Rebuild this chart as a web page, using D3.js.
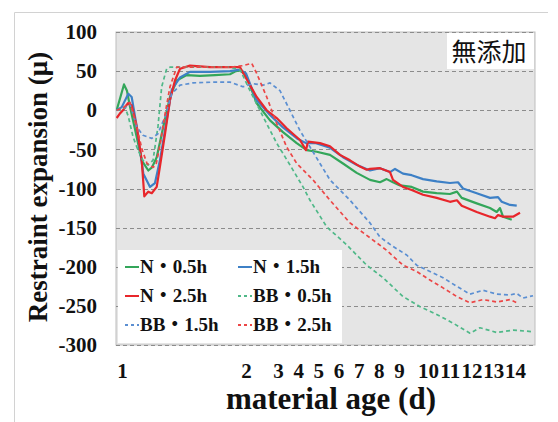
<!DOCTYPE html>
<html>
<head>
<meta charset="utf-8">
<script src="https://cdn.jsdelivr.net/npm/d3@7"></script>
<style>
  body { margin: 0; background: #fff; }
  svg { display: block; }
  text { font-family: "Liberation Serif", "Times New Roman", "Noto Sans CJK JP", serif; font-weight: bold; fill: #111; }
</style>
</head>
<body>
<svg id="chart" width="558" height="422"></svg>
<script>
// material age (d) vs restraint expansion (μ)
const dayTicks = [1, 2, 3, 4, 5, 6, 7, 8, 9, 10, 11, 12, 13, 14];
const yTicks = [100, 50, 0, -50, -100, -150, -200, -250, -300];

const n05 = [[0.957,0],[0.984,15],[1.016,33],[1.04,25],[1.065,4],[1.113,-30],[1.159,-64],[1.212,-77],[1.242,-73],
  [1.28,-60],[1.333,-21],[1.387,17],[1.441,38],[1.522,45],[1.629,44],[1.75,45],[1.871,46],[1.919,50],[1.952,51],
  [2.0,45],[2.334,9],[2.75,-13],[3.248,-28],[3.927,-42],[4.423,-51],[4.919,-53],[5.578,-57],[6.223,-68],[6.902,-80],
  [7.561,-89],[8.057,-92],[8.39,-88],[8.7,-92],[9.034,-96],[9.438,-98],[9.828,-104],[10.4,-106],[11.01,-107],
  [11.33,-104],[11.55,-112],[12.24,-119],[12.85,-125],[13.16,-130],[13.31,-125],[13.45,-136],[13.85,-140]];

const n15 = [[0.957,0],[0.998,4],[1.051,21],[1.078,17],[1.119,-21],[1.172,-81],[1.226,-98],[1.266,-93],[1.306,-64],
  [1.36,-13],[1.401,26],[1.468,42],[1.548,49],[1.71,49],[1.871,50],[1.952,52],[2.0,47],[2.313,14],[2.75,-6],
  [3.248,-22],[3.942,-36],[4.388,-42],[4.884,-42],[5.578,-48],[6.223,-60],[6.917,-70],[7.561,-77],[8.057,-74],
  [8.554,-79],[8.802,-75],[9.138,-81],[9.438,-83],[9.828,-88],[10.4,-91],[11.01,-93],[11.38,-92],[11.61,-100],
  [12.24,-106],[12.85,-112],[13.22,-111],[13.39,-117],[13.77,-121],[14.08,-122]];

const n25 = [[0.957,-10],[0.984,-4],[1.008,0],[1.048,9],[1.078,6],[1.119,-21],[1.159,-64],[1.18,-110],[1.212,-104],
  [1.24,-106],[1.28,-98],[1.306,-72],[1.347,-30],[1.387,13],[1.427,38],[1.468,53],[1.548,57],[1.71,55],[1.871,55],
  [1.952,55],[1.976,48],[2.334,17],[2.647,0],[2.959,-10],[3.431,-23],[4.091,-38],[4.388,-51],[4.487,-40],[5.082,-42],
  [5.578,-46],[6.074,-57],[6.57,-64],[7.066,-72],[7.398,-76],[7.561,-75],[8.057,-74],[8.554,-79],[8.702,-89],
  [9.138,-98],[9.438,-102],[9.828,-108],[10.4,-112],[11.01,-117],[11.33,-115],[11.55,-122],[12.24,-130],
  [12.85,-136],[13.08,-138],[13.22,-134],[13.45,-136],[13.91,-136],[14.23,-131]];

const bb05 = [[0.957,0],[0.984,0],[1.024,4],[1.051,-8],[1.089,-34],[1.129,-51],[1.169,-64],[1.21,-70],[1.25,-64],
  [1.29,-21],[1.32,30],[1.36,53],[1.387,55],[1.629,55],[1.871,55],[1.952,52],[2.125,25],[2.531,-8],[2.959,-42],
  [3.595,-70],[4.24,-98],[4.587,-115],[5.415,-149],[6.406,-172],[7.398,-198],[8.206,-214],[9.138,-238],
  [9.724,-251],[10.4,-261],[11.15,-272],[11.93,-285],[12.39,-278],[13.16,-284],[13.91,-281],[14.83,-283]];

const bb15 = [[0.957,0],[1.008,2],[1.065,8],[1.119,-21],[1.169,-32],[1.24,-36],[1.29,-30],[1.347,-8],[1.401,21],
  [1.468,32],[1.573,35],[1.75,36],[1.871,36],[1.976,30],[2.219,34],[2.531,32],[2.75,35],[3.099,25],[3.59,0],
  [4.091,-26],[4.587,-47],[5.082,-68],[5.578,-89],[6.57,-115],[7.561,-144],[8.057,-162],[8.7,-174],[9.266,-185],
  [9.61,-198],[10.09,-206],[10.69,-214],[11.32,-225],[11.93,-235],[12.53,-230],[13.16,-235],[13.77,-236],
  [14.08,-234],[14.37,-240],[14.83,-237]];

const bb25 = [[0.957,0],[1.008,3],[1.065,10],[1.119,-21],[1.161,-50],[1.202,-68],[1.25,-73],[1.274,-70],[1.306,-45],
  [1.347,-5],[1.387,30],[1.441,55],[1.629,55],[1.871,55],[1.976,57],[2.178,60],[2.334,47],[2.647,17],[2.959,-17],
  [3.431,-47],[3.927,-68],[4.735,-89],[5.578,-115],[6.57,-144],[7.561,-163],[8.39,-179],[9.138,-198],[9.61,-206],
  [10.09,-217],[10.69,-227],[11.32,-238],[11.93,-246],[12.53,-242],[13.16,-245],[13.77,-242],[14.08,-246]];

const seriesNames = ["N・0.5h", "N・1.5h", "N・2.5h", "BB・0.5h", "BB・1.5h", "BB・2.5h"];
const seriesData = [n05, n15, n25, bb05, bb15, bb25];
const seriesColors = ["#33a65a", "#3d80c6", "#e8262b", "#4fb888", "#5b8fd2", "#ec4646"];
const seriesDashed = [false, false, false, true, true, true];

const svg = d3.select("#chart");
const plot = { left: 116, right: 535, top: 32, bottom: 345 };

// outer frame (only top and left edges show in the picture)
svg.append("path")
    .attr("d", "M14.5,422 V12.5 H548")
    .attr("fill", "none")
    .attr("stroke", "#d2d2d2");

// day axis is stretched between day 1 and day 2, then roughly even per day
const x = d3.scaleLinear()
    .domain([1, 2, 3, 9, 10, 14])
    .range([122, 246, 278, 399, 428, 515]);

const y = d3.scaleLinear()
    .domain([-300, 100])
    .range([plot.bottom, plot.top]);

svg.append("rect")
    .attr("x", plot.left)
    .attr("y", plot.top)
    .attr("width", plot.right - plot.left)
    .attr("height", plot.bottom - plot.top)
    .attr("fill", "#e5e5e5")
    .attr("stroke", "#bdbdbd");

svg.append("clipPath").attr("id", "clip")
  .append("rect")
    .attr("x", plot.left)
    .attr("y", plot.top)
    .attr("width", plot.right - plot.left)
    .attr("height", plot.bottom - plot.top);

// dashed horizontal grid
svg.append("g")
  .selectAll("line")
  .data(yTicks)
  .join("line")
    .attr("x1", plot.left)
    .attr("x2", plot.right)
    .attr("y1", d => Math.round(y(d)) + 0.5)
    .attr("y2", d => Math.round(y(d)) + 0.5)
    .attr("stroke", "#8c8c8c")
    .attr("stroke-width", 1)
    .attr("stroke-dasharray", "4,3");

// y axis labels (plain hyphen for negatives, like the original)
const yAxis = svg.append("g")
    .attr("transform", `translate(${plot.left},0)`)
    .call(d3.axisLeft(y).tickValues(yTicks).tickSize(0).tickPadding(19).tickFormat(d => String(d)));
yAxis.select(".domain").remove();
yAxis.selectAll("text")
    .style("font-size", "21px")
    .attr("fill", "#111");

// x axis labels
const xAxis = svg.append("g")
    .attr("transform", `translate(0,${plot.bottom})`)
    .call(d3.axisBottom(x).tickValues(dayTicks).tickSize(0).tickPadding(18).tickFormat(d => String(d)));
xAxis.select(".domain").remove();
xAxis.selectAll("text")
    .style("font-size", "21px")
    .attr("fill", "#111");

// series
const line = d3.line()
    .x(d => x(d[0]))
    .y(d => y(d[1]));

const lines = svg.append("g").attr("clip-path", "url(#clip)");
seriesData.forEach((data, i) => {
    lines.append("path")
        .datum(data)
        .attr("d", line)
        .attr("fill", "none")
        .attr("stroke", seriesColors[i])
        .attr("stroke-width", seriesDashed[i] ? 1.7 : 2.2)
        .attr("stroke-linejoin", "round")
        .attr("stroke-dasharray", seriesDashed[i] ? "4,3" : null);
});

// legend box, inside the plot at the lower left
const legend = svg.append("g");
legend.append("rect")
    .attr("x", 118)
    .attr("y", 250)
    .attr("width", 224)
    .attr("height", 93)
    .attr("fill", "#fff");

const colX = [125, 238];
const rowY = [273, 302, 331];
seriesNames.forEach((name, i) => {
    const cx = colX[i % 2];
    const cy = rowY[Math.floor(i / 2)];
    legend.append("line")
        .attr("x1", cx)
        .attr("x2", cx + 14)
        .attr("y1", cy - 6)
        .attr("y2", cy - 6)
        .attr("stroke", seriesColors[i])
        .attr("stroke-width", 2)
        .attr("stroke-dasharray", seriesDashed[i] ? "3,3" : null);
    legend.append("text")
        .attr("x", cx + 15)
        .attr("y", cy)
        .style("font-size", "19px")
        .text(name);
});

// label box at top right
svg.append("rect")
    .attr("x", 447)
    .attr("y", 33)
    .attr("width", 87)
    .attr("height", 36)
    .attr("fill", "#fff");
svg.append("text")
    .attr("x", 489)
    .attr("y", 61)
    .attr("text-anchor", "middle")
    .style("font-family", "'Noto Sans CJK JP', sans-serif")
    .style("font-weight", "normal")
    .style("font-size", "25px")
    .attr("fill", "#222")
    .text("無添加");

// axis titles
svg.append("text")
    .attr("transform", "translate(47,187) rotate(-90)")
    .attr("text-anchor", "middle")
    .style("font-size", "27px")
    .text("Restraint expansion (μ)");

svg.append("text")
    .attr("x", 331)
    .attr("y", 409)
    .attr("text-anchor", "middle")
    .style("font-size", "31px")
    .text("material age (d)");
</script>
</body>
</html>
